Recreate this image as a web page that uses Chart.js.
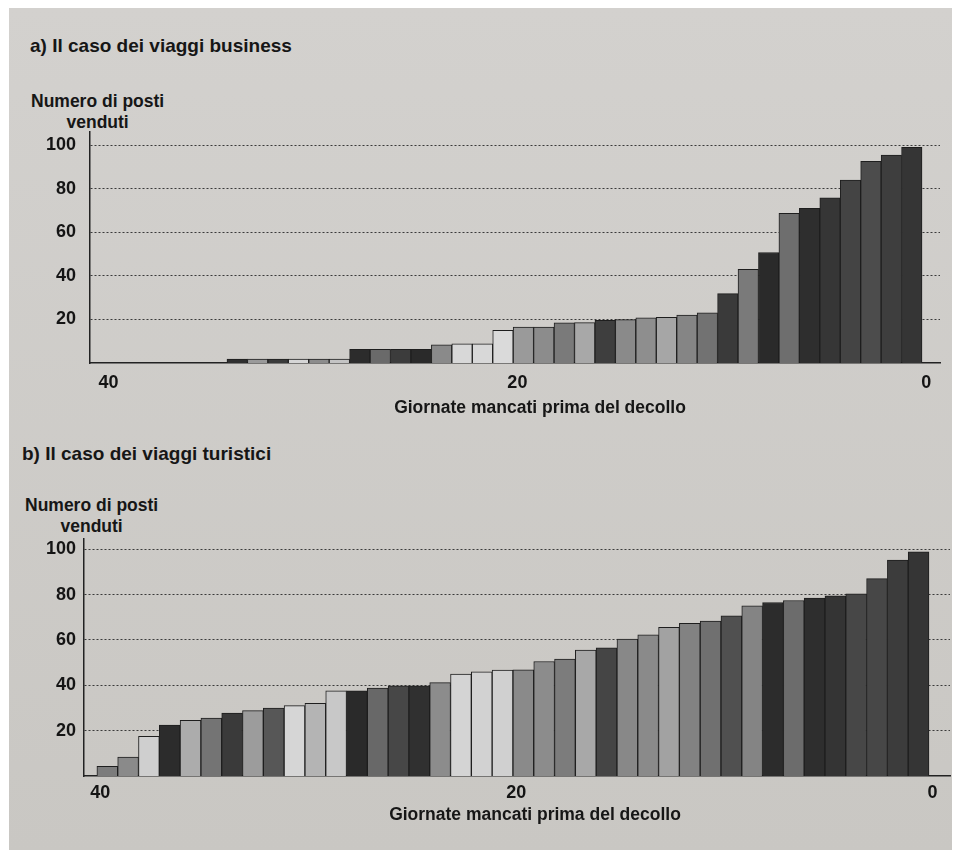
<!DOCTYPE html>
<html>
<head>
<meta charset="utf-8">
<title>Posti venduti prima del decollo</title>
<script src="https://cdn.jsdelivr.net/npm/chart.js@4.4.1/dist/chart.umd.min.js"></script>
<style>
    body { margin: 0; width: 958px; height: 850px; overflow: hidden; background: #fff;
           font-family: "Liberation Sans", Arial, sans-serif; }
    #page { position: absolute; left: 9px; top: 8px; width: 943px; height: 842px;
            background: linear-gradient(#d3d1ce, #c9c7c3); }
    .txt { position: absolute; font-weight: bold; color: #161616; white-space: nowrap; }
    .head { font-size: 19px; }
    .ytitle { font-size: 17.5px; line-height: 21px; text-align: center; }
    .xtitle { font-size: 17.5px; transform: translateX(-50%); }
    canvas { position: absolute; left: 0; }
</style>
</head>
<body>
<div id="page"></div>

<div class="txt head" style="left:30px; top:35px;">a) Il caso dei viaggi business</div>
<div class="txt ytitle" style="left:31px; top:91px;">Numero di posti<br>venduti</div>
<canvas id="chartBusiness" width="958" height="330" style="top:100px;"></canvas>
<div class="txt xtitle" style="left:540px; top:397px;">Giornate mancati prima del decollo</div>

<div class="txt head" style="left:22px; top:443px;">b) Il caso dei viaggi turistici</div>
<div class="txt ytitle" style="left:25px; top:495px;">Numero di posti<br>venduti</div>
<canvas id="chartTuristi" width="958" height="345" style="top:500px;"></canvas>
<div class="txt xtitle" style="left:535px; top:804px;">Giornate mancati prima del decollo</div>

<script>
// giorni mancanti al decollo e posti venduti
var giorniBusiness = [34, 33, 32, 31, 30, 29, 28, 27, 26, 25, 24, 23, 22, 21, 20, 19, 18,
                      17, 16, 15, 14, 13, 12, 11, 10, 9, 8, 7, 6, 5, 4, 3, 2, 1];
var postiBusiness = [1.8, 1.8, 1.8, 1.8, 1.8, 1.8, 6.3, 6.3, 6.3, 6.3, 8.3, 8.8, 8.8,
                     15, 16.5, 16.5, 18.4, 18.5, 19.6, 19.9, 20.7, 20.9, 22, 23,
                     31.8, 43, 50.7, 68.7, 71, 75.8, 83.9, 92.5, 95.4, 99];

var giorniTuristi = [40, 39, 38, 37, 36, 35, 34, 33, 32, 31, 30, 29, 28, 27, 26, 25, 24, 23, 22, 21,
                     20, 19, 18, 17, 16, 15, 14, 13, 12, 11, 10, 9, 8, 7, 6, 5, 4, 3, 2, 1];
var postiTuristi = [4.3, 8.3, 17.5, 22.5, 24.5, 25.5, 27.7, 28.8, 29.9, 31, 32, 37.6, 37.6,
                    38.8, 39.8, 39.8, 41.2, 44.9, 45.9, 46.7, 46.8, 50.5, 51.5, 55.5, 56.5,
                    60.4, 62.3, 65.5, 67.3, 68.3, 70.6, 75, 76.5, 77.4, 78.4, 79.4, 80.3,
                    87, 95.2, 98.8];

var tickGiorni = [40, 20, 0];
var tickPosti = [20, 40, 60, 80, 100];

// toni di grigio delle barre
var grigiBusiness = ['#2f2f2f', '#9a9a9a', '#3a3a3a', '#d6d6d6', '#8c8c8c', '#c4c4c4',
                     '#2c2c2c', '#6a6a6a', '#3c3c3c', '#2a2a2a', '#8a8a8a', '#d8d8d8', '#d8d8d8',
                     '#dadada', '#9a9a9a', '#8c8c8c', '#7a7a7a', '#a8a8a8', '#3e3e3e', '#8a8a8a',
                     '#8e8e8e', '#a6a6a6', '#858585', '#727272', '#3a3a3a', '#7a7a7a', '#2a2a2a',
                     '#6e6e6e', '#2e2e2e', '#363636', '#444444', '#4c4c4c', '#3e3e3e', '#353535'];
var grigiTuristi = ['#7c7c7c', '#8a8a8a', '#cfcfcf', '#2c2c2c', '#acacac', '#747474', '#3a3a3a',
                    '#9c9c9c', '#575757', '#d6d6d6', '#b4b4b4', '#c8c8c8', '#2a2a2a', '#686868',
                    '#474747', '#303030', '#8c8c8c', '#d4d4d4', '#d2d2d2', '#d0d0d0', '#8a8a8a',
                    '#8c8c8c', '#7c7c7c', '#a8a8a8', '#454545', '#888888', '#8a8a8a', '#a2a2a2',
                    '#828282', '#707070', '#505050', '#848484', '#2c2c2c', '#6c6c6c', '#2e2e2e',
                    '#343434', '#474747', '#474747', '#3c3c3c', '#353535'];

var fontTick = {family: 'Liberation Sans', weight: 'bold', size: 18};

function makeChart(id, giorni, posti, grigi, g) {

    var dati = giorni.map(function (d, i) {
        return {x: d, y: posti[i]};
    });

    return new Chart(document.getElementById(id), {
        type: 'bar',
        data: {
            datasets: [{
                data: dati,
                backgroundColor: grigi,
                borderColor: '#1e1e1e',
                borderWidth: 1,
                barPercentage: 1,
                categoryPercentage: 1
            }]
        },
        options: {
            responsive: false,
            animation: false,
            devicePixelRatio: 1,
            layout: {padding: {top: g.padTop, right: g.padRight, left: 0, bottom: 0}},
            plugins: {legend: {display: false}, tooltip: {enabled: false}},
            scales: {
                x: {
                    type: 'linear',
                    reverse: true,
                    offset: false,
                    min: g.xMin,
                    max: g.xMax,
                    afterBuildTicks: function (axis) {
                        axis.ticks = tickGiorni.map(function (v) { return {value: v}; });
                    },
                    afterFit: function (axis) { axis.height = g.xHeight; },
                    grid: {display: false, drawTicks: false, offset: false},
                    border: {display: true, color: '#222', width: 1.5},
                    ticks: {padding: g.xPad, labelOffset: g.labelOffset, color: '#141414',
                            font: fontTick, maxRotation: 0, autoSkip: false}
                },
                y: {
                    min: 0,
                    max: g.yMax,
                    afterBuildTicks: function (axis) {
                        axis.ticks = tickPosti.map(function (v) { return {value: v}; });
                    },
                    afterFit: function (axis) { axis.width = g.yWidth; },
                    grid: {color: '#3a3a3a', lineWidth: 1, drawTicks: false},
                    border: {display: true, color: '#222', width: 1.5, dash: [2, 2]},
                    ticks: {padding: g.yPad, color: '#141414', font: fontTick}
                }
            }
        }
    });
}

makeChart('chartBusiness', giorniBusiness, postiBusiness, grigiBusiness, {
    padTop: 32, padRight: 18, xHeight: 67, xPad: 9, labelOffset: -6,
    xMin: -0.38, xMax: 41.2, yMax: 106, yWidth: 90, yPad: 14
});

makeChart('chartTuristi', giorniTuristi, postiTuristi, grigiTuristi, {
    padTop: 39, padRight: 8, xHeight: 69, xPad: 6, labelOffset: -7,
    xMin: -0.51, xMax: 41.12, yMax: 104.5, yWidth: 84, yPad: 8
});
</script>
</body>
</html>
